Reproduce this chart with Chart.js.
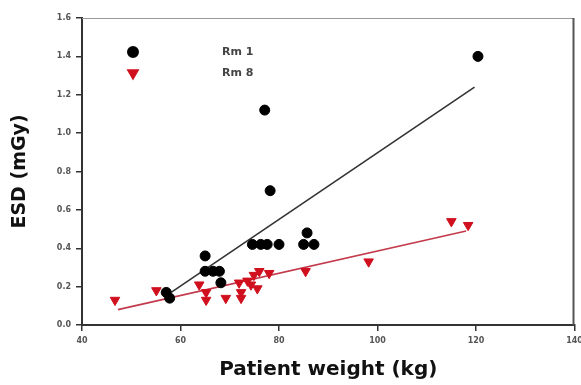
<!DOCTYPE html>
<html>
<head>
<meta charset="utf-8">
<script src="https://cdn.jsdelivr.net/npm/chart.js@4.4.0/dist/chart.umd.min.js"></script>
<style>
  body { margin: 0; background: #fff; }
  #wrap { width: 581px; height: 385px; }
</style>
</head>
<body>
<div id="wrap"><canvas id="chart" width="581" height="385"></canvas></div>
<script>
// values
const rm1Weight = [57.1, 57.8, 65.0, 65.0, 66.6, 67.9, 68.2, 74.6, 76.3, 77.6, 80.0, 85.0, 87.1, 85.7, 77.1, 78.2, 120.4];
const rm1Esd    = [0.17, 0.14, 0.36, 0.28, 0.28, 0.28, 0.22, 0.42, 0.42, 0.42, 0.42, 0.42, 0.42, 0.48, 1.12, 0.70, 1.40];

const rm8Weight = [46.7, 55.1, 63.8, 65.2, 65.2, 69.2, 71.9, 72.3, 72.3, 73.6, 74.3, 74.9, 75.6, 76.0, 78.0, 85.4, 98.2, 115.0, 118.4];
const rm8Esd    = [0.13, 0.18, 0.21, 0.17, 0.13, 0.14, 0.22, 0.17, 0.14, 0.23, 0.21, 0.26, 0.19, 0.28, 0.27, 0.28, 0.33, 0.54, 0.52];

// regression lines (end points)
const rm1FitWeight = [58.1, 119.7];
const rm1FitEsd    = [0.17, 1.24];
const rm8FitWeight = [47.3, 118.0];
const rm8FitEsd    = [0.08, 0.49];

const xTicks = [40, 60, 80, 100, 120, 140];
const yTicks = [0.0, 0.2, 0.4, 0.6, 0.8, 1.0, 1.2, 1.4, 1.6];

const legendItems = ['Rm 1', 'Rm 8'];

const toPoints = (xs, ys) => xs.map((x, i) => ({ x: x, y: ys[i] }));

const fontFamily = '"DejaVu Sans", Verdana, sans-serif';
const tickFont = { family: fontFamily, size: 8, weight: 'bold' };

// box around the plot + small legend inside it
const framePlugin = {
  id: 'frame',
  afterDraw(chart) {
    const { ctx, chartArea: a } = chart;
    ctx.save();
    ctx.strokeStyle = '#999';
    ctx.lineWidth = 1;
    ctx.beginPath();
    ctx.moveTo(a.left, a.top + 0.5);
    ctx.lineTo(a.right - 0.5, a.top + 0.5);
    ctx.stroke();
    ctx.strokeStyle = '#555';
    ctx.lineWidth = 2;
    ctx.beginPath();
    ctx.moveTo(a.right - 1, a.top);
    ctx.lineTo(a.right - 1, a.bottom);
    ctx.stroke();

    // legend
    const styles = [
      { pointStyle: 'circle', radius: 5, rotation: 0, color: '#000' },
      { pointStyle: 'triangle', radius: 5.5, rotation: 180, color: '#d0101e' }
    ];
    legendItems.forEach((label, i) => {
      const y = a.top + 34 + i * 21;
      const s = styles[i];
      ctx.fillStyle = s.color;
      ctx.strokeStyle = s.color;
      Chart.helpers.drawPoint(ctx, { pointStyle: s.pointStyle, radius: s.radius, rotation: s.rotation, borderWidth: 1 }, a.left + 51, y);
      ctx.fillStyle = '#444';
      ctx.font = 'bold 11px ' + fontFamily;
      ctx.textBaseline = 'middle';
      ctx.fillText(label, a.left + 140, y);
    });
    ctx.restore();
  }
};

new Chart(document.getElementById('chart'), {
  type: 'scatter',
  data: {
    datasets: [
      {
        label: legendItems[0],
        data: toPoints(rm1Weight, rm1Esd),
        pointStyle: 'circle',
        pointRadius: 5,
        backgroundColor: '#000',
        borderColor: '#000',
        order: 1
      },
      {
        label: legendItems[1],
        data: toPoints(rm8Weight, rm8Esd),
        pointStyle: 'triangle',
        pointRotation: 180,
        pointRadius: 5.5,
        backgroundColor: '#d0101e',
        borderColor: '#d0101e',
        order: 2
      },
      {
        label: 'Rm 1 fit',
        data: toPoints(rm1FitWeight, rm1FitEsd),
        showLine: true,
        pointRadius: 0,
        borderColor: '#333',
        borderWidth: 1.6,
        order: 3
      },
      {
        label: 'Rm 8 fit',
        data: toPoints(rm8FitWeight, rm8FitEsd),
        showLine: true,
        pointRadius: 0,
        borderColor: '#c23a4c',
        borderWidth: 1.6,
        order: 4
      }
    ]
  },
  options: {
    responsive: false,
    animation: false,
    layout: { padding: { top: 18, right: 4, left: 0, bottom: 0 } },
    plugins: {
      legend: { display: false },
      tooltip: { enabled: false }
    },
    scales: {
      x: {
        type: 'linear',
        min: xTicks[0],
        max: xTicks[xTicks.length - 1],
        afterBuildTicks: (scale) => { scale.ticks = xTicks.map(v => ({ value: v })); },
        afterFit: (scale) => {
          scale.height = 60;
          // let the "140" label run off the edge like the scan does
          scale.paddingLeft = 0;
          scale.paddingRight = 0;
        },
        ticks: { font: tickFont, color: '#555', padding: 5, maxRotation: 0 },
        grid: { drawOnChartArea: false, drawTicks: true, tickLength: 6, color: '#333', lineWidth: 1.5 },
        border: { display: true, color: '#333', width: 2 },
        title: {
          display: true,
          text: 'Patient weight (kg)',
          font: { family: fontFamily, size: 20, weight: 'bold' },
          color: '#111',
          padding: { top: 0, bottom: 3 }
        }
      },
      y: {
        min: yTicks[0],
        max: yTicks[yTicks.length - 1],
        afterBuildTicks: (scale) => { scale.ticks = yTicks.map(v => ({ value: v })); },
        afterFit: (scale) => { scale.width = 82; },
        ticks: { font: tickFont, color: '#555', padding: 5, callback: (v) => Number(v).toFixed(1) },
        grid: { drawOnChartArea: false, drawTicks: true, tickLength: 6, color: '#333', lineWidth: 1.5 },
        border: { display: true, color: '#333', width: 2 },
        title: {
          display: true,
          text: 'ESD (mGy)',
          font: { family: fontFamily, size: 19, weight: 'bold' },
          color: '#111',
          padding: { top: 9, bottom: 0 }
        }
      }
    }
  },
  plugins: [framePlugin]
});
</script>
</body>
</html>
